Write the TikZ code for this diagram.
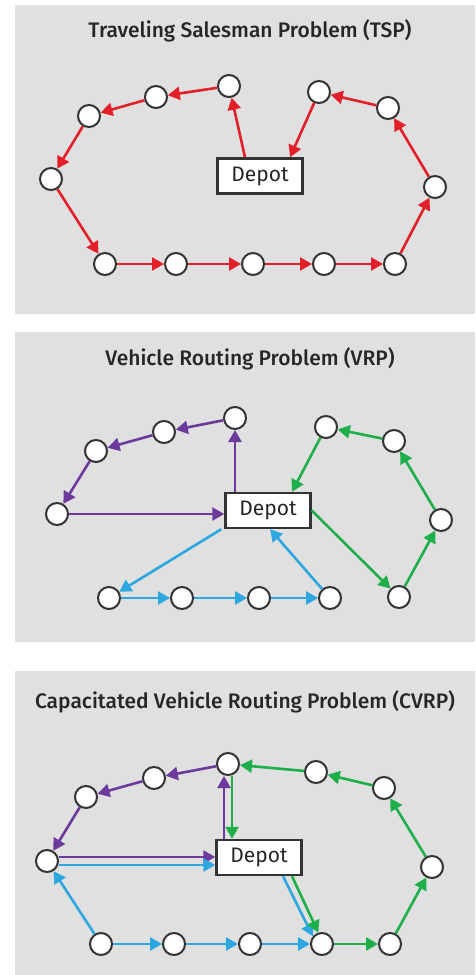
\documentclass[tikz,border=0pt]{standalone}
\usepackage{fontspec}
\setmainfont{Fira Sans}
\newfontfamily\titlefont{Fira Sans Medium}
\usetikzlibrary{arrows.meta}

\definecolor{panelgray}{HTML}{E0E0E0}
\definecolor{ringgray}{HTML}{333333}
\definecolor{titlegray}{HTML}{262626}
\definecolor{tspred}{HTML}{E3202A}
\definecolor{vrppurple}{HTML}{6C3A9C}
\definecolor{vrpblue}{HTML}{2CA7DF}
\definecolor{vrpgreen}{HTML}{1EAE4A}

\begin{document}
\begin{tikzpicture}[x=1pt,y=-1pt,
    city/.style={circle,draw=ringgray,fill=white,line width=2pt,minimum size=22pt,inner sep=0pt},
    depot/.style={draw=ringgray,fill=white,line width=2.4pt,minimum width=85pt,minimum height=35pt,
        inner sep=0pt,font=\fontsize{21}{21}\selectfont,text=titlegray},
    title/.style={anchor=base,font=\titlefont\fontsize{21}{21}\selectfont,text=titlegray},
    route/.style={line width=2.6pt,-{Triangle[length=12pt,width=13pt]}}]
    \useasboundingbox (0,0) rectangle (475,975);
    \fill[white] (0,0) rectangle (475,975);
    \fill[panelgray] (15,5) rectangle (475,314);
    \fill[panelgray] (15,332) rectangle (475,642);
    \fill[panelgray] (15,671) rectangle (475,975);

    % TSP
    \node[title] (tsp) at (250,37) {Traveling Salesman Problem (TSP)};
    \node[depot] (d1) at (260,176) {Depot};
    \node[city] (t1) at (229,86) {};
    \node[city] (t2) at (156,97) {};
    \node[city] (t3) at (89,116) {};
    \node[city] (t4) at (51,179) {};
    \node[city] (t5) at (105,264) {};
    \node[city] (t6) at (176,264) {};
    \node[city] (t7) at (253,264) {};
    \node[city] (t8) at (324,264) {};
    \node[city] (t9) at (395,264) {};
    \node[city] (t10) at (435,187) {};
    \node[city] (t11) at (388,108) {};
    \node[city] (t12) at (319,92) {};

    \draw[route,tspred] ([xshift=-15pt]d1.north) -- (t1);
    \draw[route,tspred] (t1) -- (t2);
    \draw[route,tspred] (t2) -- (t3);
    \draw[route,tspred] (t3) -- (t4);
    \draw[route,tspred] (t4) -- (t5);
    \draw[route,tspred] (t5) -- (t6);
    \draw[route,tspred] (t6) -- (t7);
    \draw[route,tspred] (t7) -- (t8);
    \draw[route,tspred] (t8) -- (t9);
    \draw[route,tspred] (t9) -- (t10);
    \draw[route,tspred] (t10) -- (t11);
    \draw[route,tspred] (t11) -- (t12);
    \draw[route,tspred] (t12) -- ([xshift=30pt]d1.north);

    % VRP
    \node[title] (vrp) at (250,365) {Vehicle Routing Problem (VRP)};
    \node[depot] (d2) at (268,510.5) {Depot};
    \node[city] (a1) at (235,418) {};
    \node[city] (a2) at (164,432) {};
    \node[city] (a3) at (96,451) {};
    \node[city] (a4) at (57,514) {};
    \node[city] (b1) at (109,598) {};
    \node[city] (b2) at (182,598) {};
    \node[city] (b3) at (259,598) {};
    \node[city] (b4) at (330,598) {};
    \node[city] (c1) at (399,597) {};
    \node[city] (c2) at (441,520) {};
    \node[city] (c3) at (394,441) {};
    \node[city] (c4) at (326,427) {};

    \draw[route,vrppurple] (a1 |- d2.north) -- (a1);
    \draw[route,vrppurple] (a1) -- (a2);
    \draw[route,vrppurple] (a2) -- (a3);
    \draw[route,vrppurple] (a3) -- (a4);
    \draw[route,vrppurple] (a4) -- (a4 -| d2.west);

    \draw[route,vrpblue] ([xshift=-3pt]d2.south west) -- (b1);
    \draw[route,vrpblue] (b1) -- (b2);
    \draw[route,vrpblue] (b2) -- (b3);
    \draw[route,vrpblue] (b3) -- (b4);
    \draw[route,vrpblue] (b4) -- ([xshift=2pt]d2.south);

    \draw[route,vrpgreen] (d2.east) -- (c1);
    \draw[route,vrpgreen] (c1) -- (c2);
    \draw[route,vrpgreen] (c2) -- (c3);
    \draw[route,vrpgreen] (c3) -- (c4);
    \draw[route,vrpgreen] (c4) -- ([xshift=24pt]d2.north);

    % CVRP
    \node[title] (cvrp) at (245,708) {Capacitated Vehicle Routing Problem (CVRP)};
    \node[depot] (d3) at (259,857.5) {Depot};
    \node[city] (p1) at (228,764) {};
    \node[city] (p2) at (154,778) {};
    \node[city] (p3) at (86,797) {};
    \node[city] (p4) at (47,861) {};
    \node[city] (q1) at (101,944) {};
    \node[city] (q2) at (174,944) {};
    \node[city] (q3) at (250,944) {};
    \node[city] (q4) at (322,944) {};
    \node[city] (q5) at (390,944) {};
    \node[city] (r1) at (432,867) {};
    \node[city] (r2) at (384,788) {};
    \node[city] (r3) at (316,772) {};

    \draw[route,vrppurple] ([xshift=-4pt]p1 |- d3.north) -- ([xshift=-4pt]p1.south);
    \draw[route,vrppurple] (p1) -- (p2);
    \draw[route,vrppurple] (p2) -- (p3);
    \draw[route,vrppurple] (p3) -- (p4);
    \draw[route,vrppurple] ([yshift=4pt]p4.east) -- ([yshift=4pt]p4.east -| d3.west);

    \draw[route,vrpblue] ([yshift=-4pt]p4.east) -- ([yshift=-4pt]p4.east -| d3.west);
    \draw[route,vrpblue] (q1) -- (p4);
    \draw[route,vrpblue] (q1) -- (q2);
    \draw[route,vrpblue] (q2) -- (q3);
    \draw[route,vrpblue] (q3) -- (q4);
    \draw[route,vrpblue] ([xshift=24pt]d3.south) -- (q4.140);

    \draw[route,vrpgreen] ([xshift=33pt]d3.south) -- (q4.108);
    \draw[route,vrpgreen] (q4) -- (q5);
    \draw[route,vrpgreen] (q5) -- (r1);
    \draw[route,vrpgreen] (r1) -- (r2);
    \draw[route,vrpgreen] (r2) -- (r3);
    \draw[route,vrpgreen] (r3) -- (p1);
    \draw[route,vrpgreen] ([xshift=4pt]p1.south) -- ([xshift=4pt]p1 |- d3.north);
\end{tikzpicture}
\end{document}
